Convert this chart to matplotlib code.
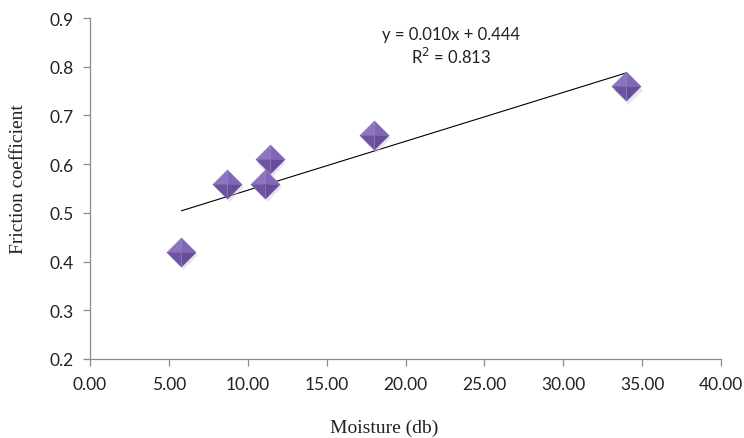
import matplotlib
matplotlib.use("Agg")
import matplotlib.pyplot as plt
import numpy as np

# values
moisture = [5.8, 8.7, 11.1, 11.4, 18.0, 34.0]
friction = [0.42, 0.56, 0.56, 0.61, 0.66, 0.76]
x_ticks = [0, 5, 10, 15, 20, 25, 30, 35, 40]
y_ticks = [0.2, 0.3, 0.4, 0.5, 0.6, 0.7, 0.8, 0.9]
equation = "y = 0.010x + 0.444"
r_squared = "R$^2$ = 0.813"

TICK_FONT = "Lato"
LABEL_FONT = "Liberation Serif"
AXIS_GREY = "#8c8c8c"
TEXT = "#222222"

# facets of the bevelled diamond marker: (triangle vertices, colour)
FACETS = [
    ([(0, 0), (-1, 0), (0, 1)], "#8d74c3"),
    ([(0, 0), (0, 1), (1, 0)], "#8066b8"),
    ([(0, 0), (-1, 0), (0, -1)], "#6e53a4"),
    ([(0, 0), (1, 0), (0, -1)], "#684c9c"),
]
DIAMOND = [(-1, 0), (0, 1), (1, 0), (0, -1)]
MARKER_SIZE = 21

W, H = 744, 439
fig = plt.figure(figsize=(W / 100, H / 100), dpi=100)
ax = fig.add_axes([90 / W, 1 - 360 / H, 631 / W, 341 / H])

# trend line (least squares) over the data range
slope, intercept = np.polyfit(moisture, friction, 1)
xs = np.array([min(moisture), max(moisture)])
ax.plot(xs, slope * xs + intercept, color="black", lw=0.8, zorder=2)

# soft shadow, then the four shaded facets
ax.plot(np.array(moisture) + 0.1, np.array(friction) - 0.007, ls="none",
        marker=DIAMOND, ms=MARKER_SIZE, mfc="#d0d0d0", mec="none",
        alpha=0.45, zorder=3)
for verts, colour in FACETS:
    ax.plot(moisture, friction, ls="none", marker=verts, ms=MARKER_SIZE,
            mfc=colour, mec=colour, mew=0.3, zorder=4)

fig.text(451 / W, 1 - 35 / H, equation, ha="center", va="center",
         fontsize=12, family=TICK_FONT, color=TEXT)
fig.text(451 / W, 1 - 57 / H, r_squared, ha="center", va="center",
         fontsize=12, family=TICK_FONT, color=TEXT)

ax.set_xlim(0, 40)
ax.set_ylim(0.2, 0.9)
ax.set_xticks(x_ticks)
ax.set_yticks(y_ticks)
ax.set_xticklabels([f"{v:.2f}" for v in x_ticks], family=TICK_FONT,
                   fontsize=12.5, color=TEXT)
ax.set_yticklabels([f"{v:.1f}" for v in y_ticks], family=TICK_FONT,
                   fontsize=12.5, color=TEXT)

for side in ("top", "right"):
    ax.spines[side].set_visible(False)
for side in ("left", "bottom"):
    ax.spines[side].set_color(AXIS_GREY)
    ax.spines[side].set_linewidth(0.9)
ax.tick_params(direction="out", length=5, width=0.9, color=AXIS_GREY)
ax.tick_params(axis="y", pad=7)
ax.tick_params(axis="x", pad=7)

ax.set_xlabel("Moisture (db)", family=LABEL_FONT, fontsize=14,
              color=TEXT, va="center", ha="center")
ax.set_ylabel("Friction coefficient", family=LABEL_FONT, fontsize=14,
              color=TEXT, va="center", ha="center")
ax.xaxis.set_label_coords((384 - 90) / 631, (360 - 428) / 341)
ax.yaxis.set_label_coords((19 - 90) / 631, (360 - 179) / 341)

fig.savefig("out.png", dpi=100)
